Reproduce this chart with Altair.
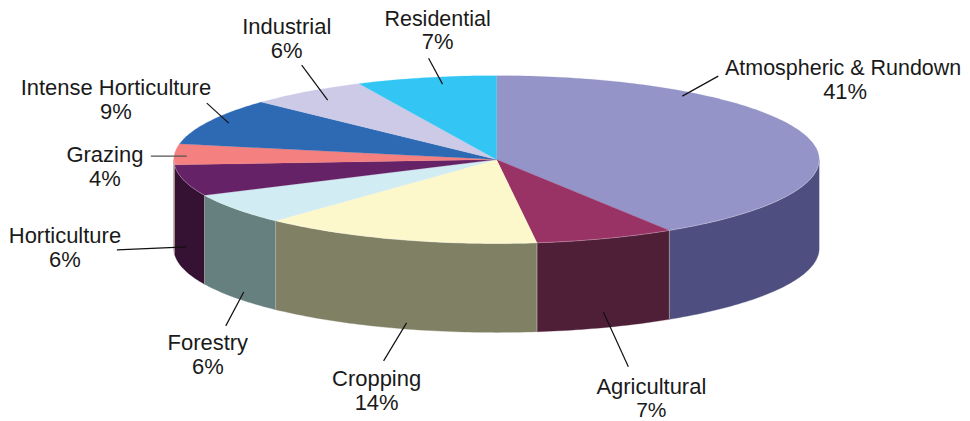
import math
import altair as alt

# ---- chart values ----
names = ["Atmospheric & Rundown", "Agricultural", "Cropping", "Forestry", "Horticulture",
         "Grazing", "Intense Horticulture", "Industrial", "Residential"]
shares = [41, 7, 14, 6, 6, 4, 9, 6, 7]

# ---- styles ----
top_colours = ["#9594C8", "#993366", "#FCF8CC", "#D2ECF4", "#662266",
               "#F48080", "#2E6AB4", "#CCCAE6", "#33C6F5"]
wall_colours = ["#4E4F80", "#4F1F38", "#808064", "#66807F", "#351233",
                "#7A4040", "#17355A", "#666573", "#1A637A"]
label_sizes = [21.5, 22, 22, 22, 22, 22, 22, 22, 21.5]
share_sizes = [22, 21, 22, 22, 22, 22, 22, 22, 22]

# ---- layout of the drawing (page pixels) ----
CX, CY, RX, RY, DEPTH = 497, 159.5, 323, 84, 89
label_x = [844, 652, 377, 208, 65, 105, 116, 287, 438]
share_x = [846, 652, 377, 208, 65, 105, 116, 287, 438]
label_y = [75, 394, 386, 350, 243, 162, 95, 34, 26]
share_y = [99, 417, 410, 374, 267, 186, 119, 58, 49]
leader_x1 = [719, 629, 384, 226, 117, 151, 207, 302, 429]
leader_y1 = [76, 367, 361, 326, 250, 156, 103, 65, 58]
leader_x2 = [683, 604, 407, 244, 187, 187, 229, 328, 443]
leader_y2 = [96, 312, 323, 292, 247, 156, 123, 100, 84]
W, H = 954, 405


def rim(angle, drop=0.0):
    t = math.radians(angle)
    return [CX + RX * math.sin(t), CY - RY * math.cos(t) + drop]


def arc(a0, a1, drop=0.0):
    n = max(2, int(abs(a1 - a0) / 1.0) + 1)
    return [rim(a0 + (a1 - a0) * i / (n - 1), drop) for i in range(n)]


def feature(coords, colour, kind):
    return {"type": "Feature",
            "properties": {"colour": colour, "kind": kind},
            "geometry": {"type": "Polygon", "coordinates": [coords]}}


tops, walls, seams = [], [], []
start = 0.0
for share, top_c, wall_c in zip(shares, top_colours, wall_colours):
    end = start + share * 3.6
    ring = [[CX, CY]] + arc(start, end) + [[CX, CY]]
    tops.append(feature(ring, top_c, "top"))
    lo, hi = max(start, 90), min(end, 270)
    if hi > lo:
        upper = arc(lo, hi)
        lower = arc(hi, lo, DEPTH)
        walls.append(feature(upper + lower + [upper[0]], wall_c, "wall"))
        if end < 270:
            a, b = rim(end), rim(end, DEPTH)
            seams.append({"x": a[0], "y": a[1], "y2": b[1]})
    start = end

projection = alt.Projection(type="identity", scale=1, translate=[-8, -8])


def shapes(features, stroke_width):
    return alt.Chart(alt.Data(values=features)).mark_geoshape(
        strokeWidth=stroke_width, strokeOpacity=0.55
    ).encode(
        fill=alt.Fill("properties.colour:N", scale=None),
        stroke=alt.Stroke("properties.colour:N", scale=None),
    ).project(**projection.to_dict())


x_scale = alt.Scale(domain=[8, 8 + W], nice=False, zero=False)
y_scale = alt.Scale(domain=[8 + H, 8], nice=False, zero=False)

seam_layer = alt.Chart(alt.Data(values=seams)).mark_rule(
    strokeWidth=0.7, color="#b4b4ac"
).encode(
    x=alt.X("x:Q", scale=x_scale, axis=None),
    y=alt.Y("y:Q", scale=y_scale, axis=None),
    y2="y2:Q",
)

rim_rows = [{"i": i, "x": p[0], "y": p[1]} for i, p in enumerate(arc(90, 270))]
rim_layer = alt.Chart(alt.Data(values=rim_rows)).mark_line(
    strokeWidth=0.8, color="#ffffff", opacity=0.35
).encode(
    x=alt.X("x:Q", scale=x_scale, axis=None),
    y=alt.Y("y:Q", scale=y_scale, axis=None),
    order="i:Q",
)

leader_rows = [
    {"x": a, "y": b, "x2": c, "y2": d, "tone": "#555555" if n == "Grazing" else "#111111"}
    for n, a, b, c, d in zip(names, leader_x1, leader_y1, leader_x2, leader_y2)
]
leaders = alt.Chart(alt.Data(values=leader_rows)).mark_rule(strokeWidth=1.2).encode(
    x=alt.X("x:Q", scale=x_scale, axis=None),
    y=alt.Y("y:Q", scale=y_scale, axis=None),
    x2="x2:Q",
    y2="y2:Q",
    color=alt.Color("tone:N", scale=None),
)

text_rows = []
for n, s, x, sx, y, sy, fs, ss in zip(names, shares, label_x, share_x, label_y, share_y, label_sizes, share_sizes):
    text_rows.append({"x": x, "y": y, "t": n, "fs": fs})
    text_rows.append({"x": sx, "y": sy, "t": f"{s}%", "fs": ss})

labels = alt.Chart(alt.Data(values=text_rows)).mark_text(
    font="Liberation Sans", color="#1a1a1a", align="center", baseline="alphabetic"
).encode(
    x=alt.X("x:Q", scale=x_scale, axis=None),
    y=alt.Y("y:Q", scale=y_scale, axis=None),
    text="t:N",
    size=alt.Size("fs:Q", scale=None),
)

chart = alt.layer(shapes(walls, 0.6), shapes(tops, 0.4), rim_layer, seam_layer, leaders, labels).properties(
    width=W, height=H, padding=0, background="white"
).configure_view(stroke=None)

chart.save("out.html", embed_options={"renderer": "svg", "actions": False})
